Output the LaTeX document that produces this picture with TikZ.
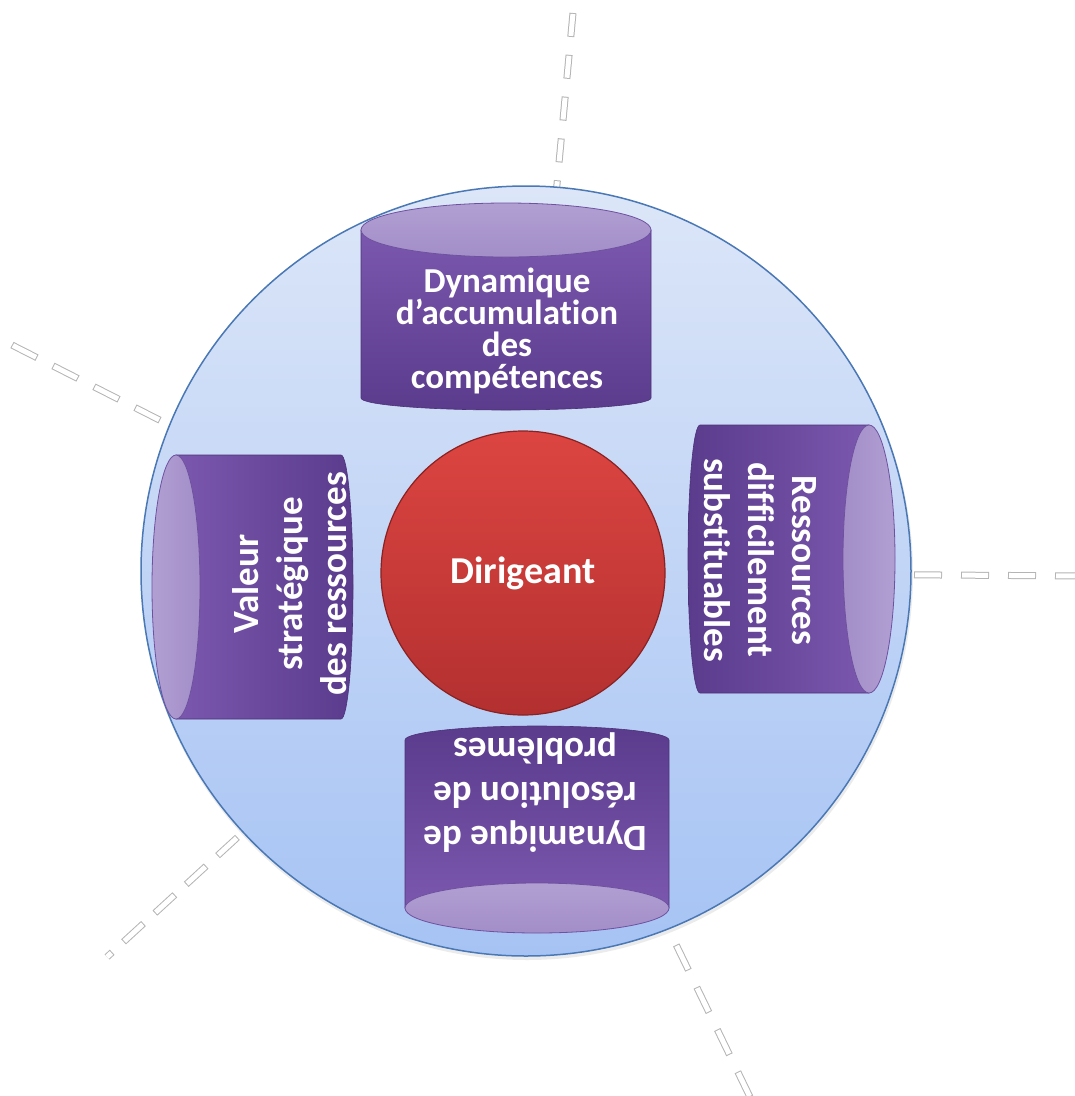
\documentclass[tikz,border=0pt]{standalone}
\usepackage{fontspec}
\setmainfont[Ligatures={NoCommon,NoContextual,NoRare},RawFeature={-liga;-clig;-dlig}]{Carlito}
\definecolor{ringedge}{HTML}{4A78B5}
\definecolor{ringtop}{HTML}{DCE6F8}
\definecolor{ringbot}{HTML}{A6C3F4}
\definecolor{redtop}{HTML}{DC4541}
\definecolor{redbot}{HTML}{B33030}
\definecolor{rededge}{HTML}{8A2222}
\definecolor{cyldark}{HTML}{5A3B8C}
\definecolor{cyllight}{HTML}{7B58AE}
\definecolor{captop}{HTML}{B19FD2}
\definecolor{capbot}{HTML}{A38EC8}
\definecolor{capedge}{HTML}{6E519F}
\definecolor{dashgray}{HTML}{B4B4B4}
\begin{document}
\begin{tikzpicture}[x=1pt,y=-1pt,
  spokeout/.style={draw=dashgray, line width=7pt},
  spokein/.style={draw=white, line width=5pt},
  cylbody/.style={draw=cyldark!85!black, line width=0.6pt},
  cylcap/.style={draw=capedge, line width=0.8pt, top color=captop, bottom color=capbot},
  lbl/.style={text=white, font=\bfseries\fontsize{37}{44}\selectfont, align=center, inner sep=0pt},
]
\useasboundingbox (0,0) rectangle (1075,1096);
\clip (0,0) rectangle (1075,1096);

% spokes (outer end -> inner point, hidden by the ring)
\coordinate (sTo) at (573,13);   \coordinate (sTi) at (546,302);
\coordinate (sRo) at (1083,576); \coordinate (sRi) at (800,574);
\coordinate (sLo) at (12,345);   \coordinate (sLi) at (244,463);
\coordinate (sBLo) at (107,957); \coordinate (sBLi) at (300,780);
\coordinate (sBRo) at (750,1097);\coordinate (sBRi) at (619,827);

\draw[spokeout, dash pattern=on 24pt off 18pt] (sTo) -- (sTi);
\draw[spokein, dash pattern=on 22pt off 20pt, dash phase=41pt] (sTo) -- (sTi);
\draw[spokeout, dash pattern=on 28pt off 19pt] (sRo) -- (sRi);
\draw[spokein, dash pattern=on 26pt off 21pt, dash phase=46pt] (sRo) -- (sRi);
\draw[spokeout, dash pattern=on 28pt off 18pt] (sLo) -- (sLi);
\draw[spokein, dash pattern=on 26pt off 20pt, dash phase=45pt] (sLo) -- (sLi);
\draw[spokeout, dash pattern=on 27pt off 15.5pt, dash phase=20pt] (sBLo) -- (sBLi);
\draw[spokein, dash pattern=on 25pt off 17.5pt, dash phase=19pt] (sBLo) -- (sBLi);
\draw[spokeout, dash pattern=on 28pt off 19pt] (sBRo) -- (sBRi);
\draw[spokein, dash pattern=on 26pt off 21pt, dash phase=46pt] (sBRo) -- (sBRi);

% ring
\fill[black, opacity=0.08] (527,574) circle[radius=386];
\node[circle, minimum size=770pt, inner sep=0pt, draw=ringedge, line width=1.5pt,
      top color=ringtop, bottom color=ringbot] (ring) at (526,571) {};

% centre
\node[circle, minimum size=284pt, inner sep=0pt, draw=rededge, line width=1.2pt,
      top color=redtop, bottom color=redbot, text=white,
      font=\bfseries\fontsize{38}{44}\selectfont] (dir) at (523,573) {Dirigeant};

% top cylinder
\path[cylbody, top color=cyllight, bottom color=cyldark]
  (361,230) -- (361,398) arc[start angle=180, end angle=0, x radius=145, y radius=12]
  -- (651,230) -- cycle;
\path[cylcap] (506,230) ellipse[x radius=145, y radius=27];
\node[lbl, font=\bfseries\fontsize{35}{32}\selectfont] (ttop) at (507,331)
  {Dynamique\\d’accumulation\\des\\compétences};

% right cylinder
\path[cylbody, left color=cyldark, right color=cyllight]
  (869,425) -- (700,425) arc[start angle=270, end angle=90, x radius=12, y radius=134]
  -- (869,693) -- cycle;
\path[cylcap, left color=capbot, right color=captop] (869,559) ellipse[x radius=26, y radius=134];
\node[lbl, rotate=-90] (tright) at (760,560)
  {Ressources\\difficilement\\substituables};

% left cylinder
\path[cylbody, left color=cyllight, right color=cyldark]
  (176,455) -- (341,455) arc[start angle=270, end angle=450, x radius=12, y radius=132]
  -- (176,719) -- cycle;
\path[cylcap, left color=captop, right color=capbot] (176,587) ellipse[x radius=24, y radius=132];
\node[lbl, rotate=90] (tleft) at (290,584)
  {Valeur\\stratégique\\des ressources};

% bottom cylinder
\path[cylbody, top color=cyldark, bottom color=cyllight]
  (405,908) -- (405,740) arc[start angle=180, end angle=360, x radius=132, y radius=14]
  -- (669,908) -- cycle;
\path[cylcap] (537,908) ellipse[x radius=132, y radius=25];
\node[lbl, rotate=180] (tbottom) at (535,793)
  {Dynamique de\\résolution de\\problèmes};
\end{tikzpicture}
\end{document}
